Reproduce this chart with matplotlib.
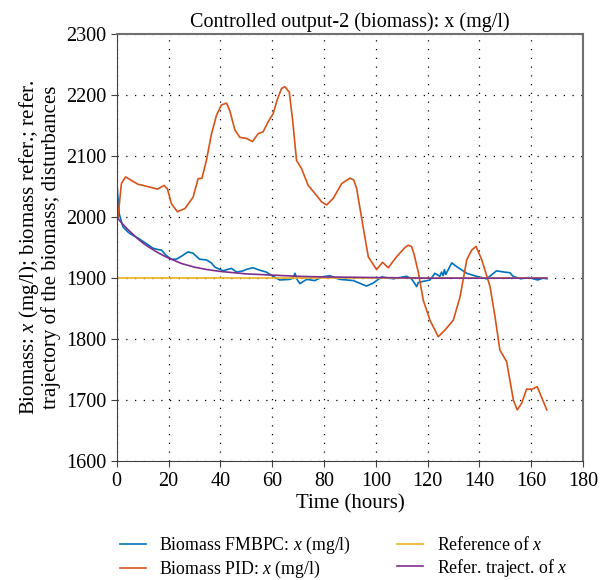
import numpy as np
import matplotlib
matplotlib.use("Agg")
import matplotlib.pyplot as plt

plt.rcParams['font.family'] = ['Liberation Serif', 'DejaVu Serif']
plt.rcParams['mathtext.fontset'] = 'custom'
plt.rcParams['mathtext.rm'] = 'Liberation Serif'
plt.rcParams['mathtext.it'] = 'Liberation Serif:italic'

# Biomass FMBPC (blue)
t_fmbpc = [0, 0.3, 1.0, 2.4, 4.5, 6.3, 8.5, 10.2, 12.0, 14.0, 15.8, 17.3, 18.9, 21.1, 23.0,
           25.0, 27.5, 29.4, 32.0, 34.6, 36.5, 37.9, 41.1, 42.5, 44.3, 46.3, 48.8, 50.5, 52.6,
           55.2, 57.7, 60.4, 62.9, 66.8, 68.0, 68.8, 69.6, 70.7, 73.3, 76.5, 79.1, 82.3, 86.1,
           91.3, 96.4, 99.0, 102.2, 106.8, 111.9, 113.8, 115.8, 116.4, 120.9, 122.8, 124.7,
           125.4, 126.0, 126.5, 127.0, 129.3, 131.2, 135.1, 138.9, 142.8, 146.6, 149.5, 151.7,
           153.0, 156.0, 159.0, 162.5, 164.5, 166.0]
y_fmbpc = [2066, 2040, 2005, 1984, 1975, 1970, 1965, 1960, 1955, 1949, 1947, 1946, 1938, 1931,
           1931, 1936, 1943, 1941, 1931, 1930, 1925, 1918, 1912, 1914, 1916, 1910, 1912, 1915,
           1917, 1913, 1910, 1903, 1897, 1898, 1900, 1908, 1898, 1891, 1898, 1896, 1902, 1904,
           1898, 1896, 1887, 1892, 1902, 1899, 1903, 1899, 1886, 1893, 1897, 1908, 1903, 1910,
           1904, 1914, 1906, 1925, 1919, 1908, 1903, 1899, 1912, 1910, 1909, 1903, 1899, 1901,
           1897, 1900, 1899]

# Biomass PID (orange)
t_pid = [0, 0.5, 1.8, 3.4, 5.0, 8.2, 12.1, 15.7, 18.3, 19.6, 21.1, 23.4, 26.3, 29.5, 31.4,
         32.9, 34.6, 36.6, 38.5, 40.4, 42.4, 43.6, 45.6, 47.5, 50.1, 52.4, 54.6, 56.5, 58.4,
         60.4, 61.9, 63.6, 64.9, 66.6, 67.9, 69.4, 71.3, 73.9, 76.5, 79.1, 81.0, 83.6, 86.8,
         90.0, 91.5, 92.6, 95.1, 97.1, 100.3, 102.6, 104.8, 108.0, 111.2, 112.5, 113.8,
         114.7, 116.4, 118.3, 120.9, 124.1, 126.7, 129.9, 132.5, 135.1, 137.0, 138.7, 140.9,
         144.1, 146.0, 147.9, 150.5, 153.1, 154.6, 156.3, 158.2, 160.4, 162.3, 166.0]
y_pid = [1995, 2000, 2055, 2066, 2062, 2054, 2050, 2046, 2052, 2046, 2022, 2009, 2014, 2033,
         2063, 2064, 2093, 2137, 2167, 2184, 2187, 2175, 2143, 2131, 2129, 2124, 2137, 2140,
         2156, 2170, 2192, 2211, 2214, 2205, 2159, 2093, 2080, 2052, 2039, 2025, 2020, 2031,
         2055, 2064, 2061, 2047, 1984, 1935, 1914, 1926, 1917, 1935, 1950, 1954, 1952, 1940,
         1910, 1864, 1831, 1804, 1815, 1831, 1869, 1930, 1946, 1952, 1930, 1886, 1837, 1782,
         1763, 1700, 1684, 1695, 1718, 1718, 1722, 1684]

# Reference of x (yellow)
t_ref = [0, 166]
y_ref = [1900, 1900]

# Reference trajectory of x (purple)
t_traj = [0, 2, 4, 6, 8, 10, 12, 15, 18, 20, 25, 30, 35, 40, 45, 50, 60, 70, 80, 100, 120,
          140, 166]
y_traj = [2000, 1990, 1981, 1973, 1965, 1958, 1952, 1944, 1937, 1933, 1924, 1918, 1914, 1911,
          1909, 1907, 1905, 1903, 1902, 1901, 1900, 1900, 1900]

x_ticks = [0, 20, 40, 60, 80, 100, 120, 140, 160, 180]
y_ticks = [1600, 1700, 1800, 1900, 2000, 2100, 2200, 2300]

fig = plt.figure(figsize=(6.08, 5.80), dpi=100)
ax = fig.add_axes([0.192, 0.205, 0.767, 0.736])

ax.plot(t_fmbpc, y_fmbpc, color='#0072BD', lw=1.2, label='Biomass FMBPC: $x$ (mg/l)')
ax.plot(t_pid, y_pid, color='#D95319', lw=1.2, label='Biomass PID: $x$ (mg/l)')
ax.plot(t_ref, y_ref, color='#EDB120', lw=1.2, label='Reference of $x$')
ax.plot(t_traj, y_traj, color='#7E2F8E', lw=1.2, label='Refer. traject. of $x$')

ax.set_xlim(0, 180)
ax.set_ylim(1600, 2300)
ax.set_xticks(x_ticks)
ax.set_yticks(y_ticks)
ax.tick_params(labelsize=14.5, direction='out', length=4, color='#404040')
ax.grid(True, linestyle=(0, (1, 6)), color='black', lw=0.9)

for s in ['left', 'bottom']:
    ax.spines[s].set_color('#404040')
for s in ['top', 'right']:
    ax.spines[s].set_color('#707070')
    ax.spines[s].set_linewidth(1.5)

ax.set_title('Controlled output-2 (biomass): x (mg/l)', fontsize=14.5, pad=5)
ax.set_xlabel('Time (hours)', fontsize=15, labelpad=3)
ax.set_ylabel('Biomass: $x$ (mg/l); biomass refer.; refer.\ntrajectory of the biomass; disturbances',
              fontsize=15, labelpad=4, linespacing=1.0)

fig.legend(loc='center', bbox_to_anchor=(0.565, 0.039), ncol=2, frameon=False,
           fontsize=12.8, handlelength=1.45, columnspacing=2.6, labelspacing=0.15,
           handletextpad=0.75)

fig.savefig('out.png', dpi=100)
